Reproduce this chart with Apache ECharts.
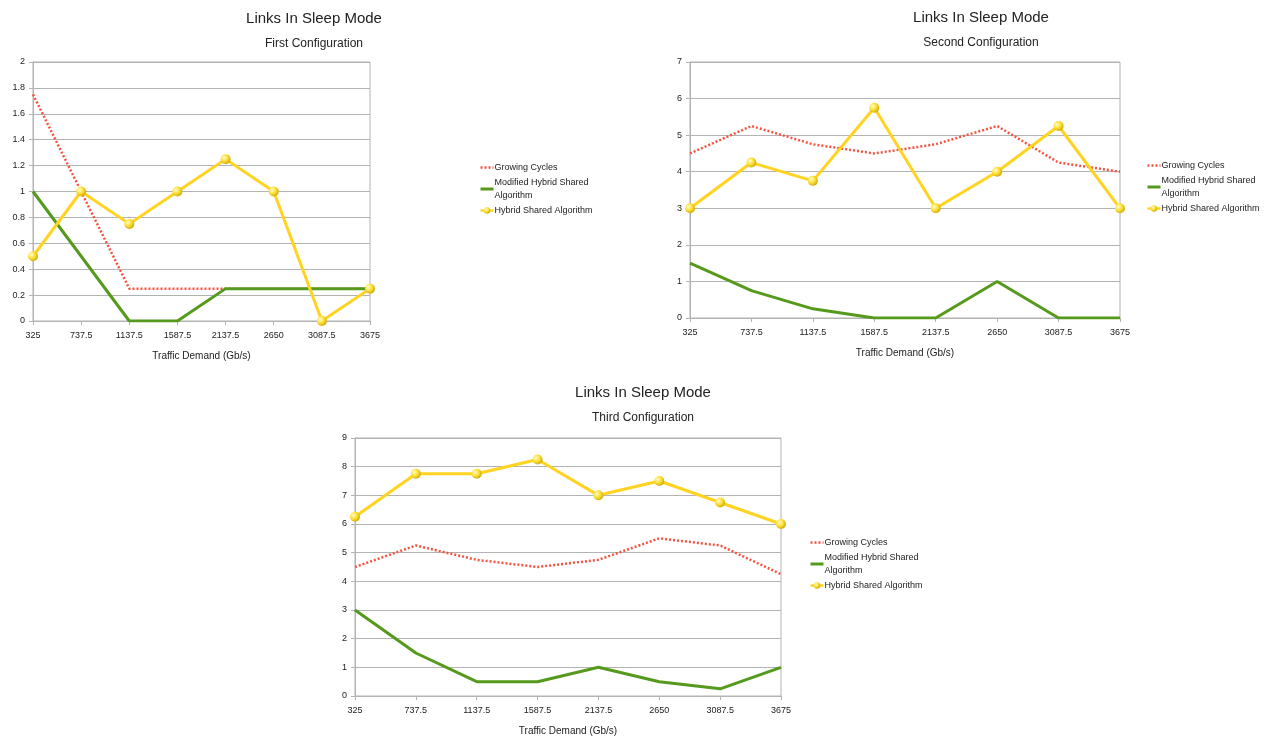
<!DOCTYPE html>
<html>
<head>
<meta charset="utf-8">
<script src="https://cdn.jsdelivr.net/npm/echarts@6/dist/echarts.min.js"></script>
<style>
html,body{margin:0;padding:0;background:#fff;}
#c{width:1287px;height:744px;}
</style>
</head>
<body>
<div id="c"></div>
<script>
const categories = ['325', '737.5', '1137.5', '1587.5', '2137.5', '2650', '3087.5', '3675'];
const seriesNames = ['Growing Cycles', 'Modified Hybrid Shared Algorithm', 'Hybrid Shared Algorithm'];

const firstGrowing  = [1.75, 1.0, 0.25, 0.25, 0.25, 0.25, 0.25, 0.25];
const firstModified = [1.0, 0.5, 0, 0, 0.25, 0.25, 0.25, 0.25];
const firstHybrid   = [0.5, 1.0, 0.75, 1.0, 1.25, 1.0, 0, 0.25];

const secondGrowing  = [4.5, 5.25, 4.75, 4.5, 4.75, 5.25, 4.25, 4.0];
const secondModified = [1.5, 0.75, 0.25, 0, 0, 1.0, 0, 0];
const secondHybrid   = [3.0, 4.25, 3.75, 5.75, 3.0, 4.0, 5.25, 3.0];

const thirdGrowing  = [4.5, 5.25, 4.75, 4.5, 4.75, 5.5, 5.25, 4.25];
const thirdModified = [3.0, 1.5, 0.5, 0.5, 1.0, 0.5, 0.25, 1.0];
const thirdHybrid   = [6.25, 7.75, 7.75, 8.25, 7.0, 7.5, 6.75, 6.0];

const mainTitle = 'Links In Sleep Mode';
const subTitles = ['First Configuration', 'Second Configuration', 'Third Configuration'];
const xAxisName = 'Traffic Demand (Gb/s)';
const yMax = [2, 7, 9];
const yInterval = [0.2, 1, 1];

const FONT = 'Liberation Sans, Arial, sans-serif';
const RED = '#f5533f', GREEN = '#559a1d', YELLOW = '#ffd320';

const panels = [
  {grid:{left:33, top:62, width:337, height:259}, title:{x:309, y:6}, legend:{x:474, y:156}, data:[firstGrowing, firstModified, firstHybrid]},
  {grid:{left:690, top:62, width:430, height:256}, title:{x:976, y:5}, legend:{x:1141, y:154}, data:[secondGrowing, secondModified, secondHybrid]},
  {grid:{left:355, top:438, width:426, height:258}, title:{x:638, y:380}, legend:{x:804, y:531}, data:[thirdGrowing, thirdModified, thirdHybrid]}
];

const markerColor = {
  type:'radial', x:0.35, y:0.35, r:0.75,
  colorStops:[{offset:0, color:'#fffbd0'},{offset:0.45, color:'#ffe23a'},{offset:1, color:'#c9a000'}]
};

const hiddenMarker = {color:'rgba(0,0,0,0)', borderWidth:0, opacity:0};

const option = {
  backgroundColor:'#fff',
  animation:false,
  title:[], grid:[], xAxis:[], yAxis:[], legend:[], series:[]
};

panels.forEach((p, i) => {
  option.title.push({
    text: mainTitle, subtext: subTitles[i],
    left: p.title.x, top: p.title.y, textAlign:'center',
    itemGap: 12,
    textStyle:{fontFamily:FONT, fontSize:15, fontWeight:'normal', color:'#222'},
    subtextStyle:{fontFamily:FONT, fontSize:12, color:'#222'}
  });
  option.grid.push({
    left:p.grid.left, top:p.grid.top, width:p.grid.width, height:p.grid.height,
    show:true, borderColor:'#b3b3b3', borderWidth:1, containLabel:false
  });
  option.xAxis.push({
    type:'category', gridIndex:i, data:categories, boundaryGap:false,
    name:xAxisName, nameLocation:'middle', nameGap:30,
    nameTextStyle:{fontFamily:FONT, fontSize:10, color:'#222'},
    axisLine:{lineStyle:{color:'#b3b3b3'}},
    axisTick:{show:true, length:4, lineStyle:{color:'#b3b3b3'}},
    axisLabel:{fontFamily:FONT, fontSize:9, color:'#222', margin:10, interval:0},
    splitLine:{show:false}
  });
  option.yAxis.push({
    type:'value', gridIndex:i, min:0, max:yMax[i], interval:yInterval[i],
    axisLine:{show:true, lineStyle:{color:'#b3b3b3'}},
    axisTick:{show:true, length:4, lineStyle:{color:'#b3b3b3'}},
    axisLabel:{fontFamily:FONT, fontSize:9, color:'#222', margin:8},
    splitLine:{show:true, lineStyle:{color:'#b3b3b3', width:1}}
  });
  option.legend.push({
    orient:'vertical', left:p.legend.x, top:p.legend.y,
    itemWidth:13, itemHeight:8, itemGap:2,
    data: [
      {name:seriesNames[0], itemStyle:hiddenMarker, lineStyle:{color:RED, width:2.5, type:[2,2]}},
      {name:seriesNames[1], itemStyle:hiddenMarker, lineStyle:{color:GREEN, width:3}},
      {name:seriesNames[2], lineStyle:{color:YELLOW, width:2.5}}
    ],
    formatter: n => n === 'Modified Hybrid Shared Algorithm' ? 'Modified Hybrid Shared\nAlgorithm' : n,
    textStyle:{fontFamily:FONT, fontSize:9, color:'#222', lineHeight:13, padding:[0,0,0,-4]}
  });
  option.series.push(
    {name:seriesNames[0], type:'line', xAxisIndex:i, yAxisIndex:i, data:p.data[0],
     showSymbol:false, symbol:'none', z:2,
     lineStyle:{color:RED, width:2.5, type:[2,2]}, itemStyle:{color:RED}},
    {name:seriesNames[1], type:'line', xAxisIndex:i, yAxisIndex:i, data:p.data[1],
     showSymbol:false, symbol:'none', z:3,
     lineStyle:{color:GREEN, width:3}, itemStyle:{color:GREEN}},
    {name:seriesNames[2], type:'line', xAxisIndex:i, yAxisIndex:i, data:p.data[2],
     symbol:'circle', symbolSize:10, showSymbol:true, z:4,
     lineStyle:{color:YELLOW, width:3}, itemStyle:{color:markerColor, borderWidth:0}}
  );
});

const chart = echarts.init(document.getElementById('c'), null, {renderer:'canvas'});
chart.setOption(option);
</script>
</body>
</html>
